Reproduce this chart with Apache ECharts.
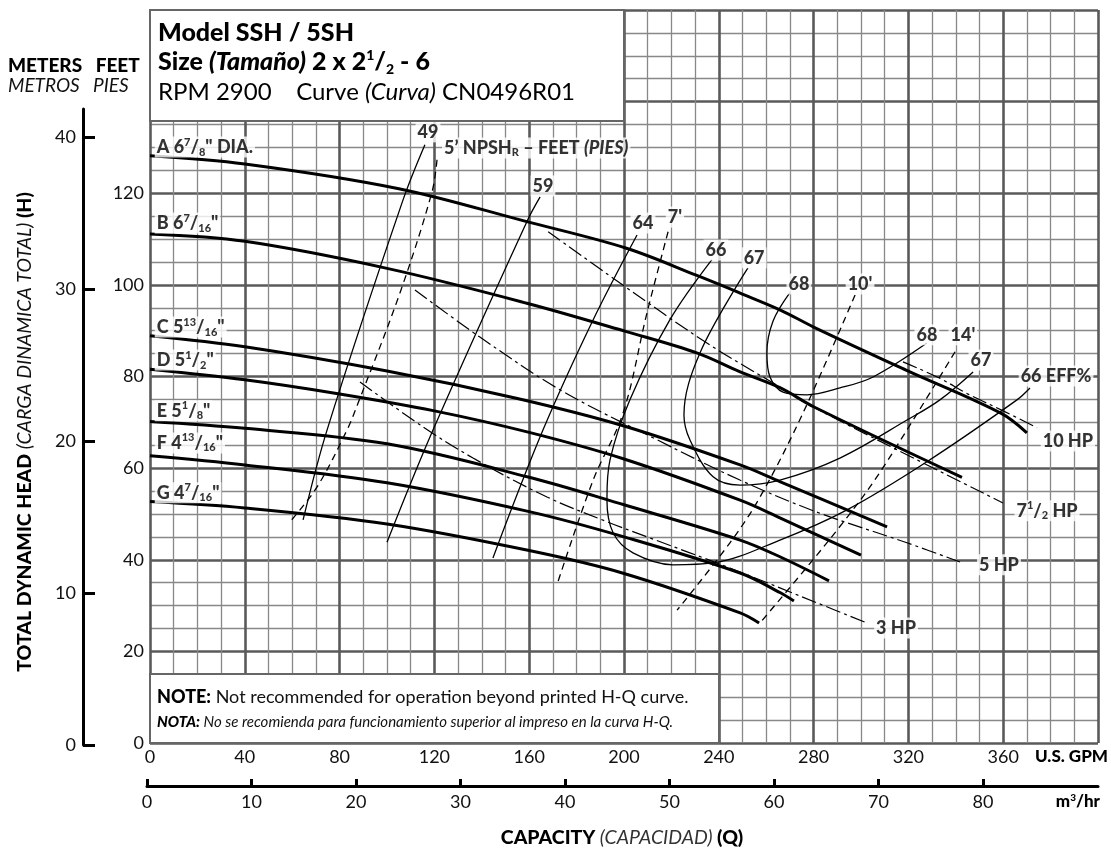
<!DOCTYPE html>
<html><head><meta charset="utf-8">
<script src="https://cdn.jsdelivr.net/npm/echarts@6/dist/echarts.min.js"></script>
<style>html,body{margin:0;padding:0;background:#fff}#c{width:1111px;height:848px}</style>
</head><body><div id="c"></div>
<script>
// ---------- DATA (Q in U.S. GPM, H in feet) ----------
const gpmRange = [0, 400];
const feetRange = [0, 160];
const feetLabels = [0, 20, 40, 60, 80, 100, 120];
const meterTicks = [0, 10, 20, 30, 40];
const m3hTicks = [0, 10, 20, 30, 40, 50, 60, 70, 80];

const impA = [[0,128.2],[40,126.4],[105,121],[159,113.8],[201,108],[231,102],[249,98.2],[266,94.5],[280,90.8],[319,81.4],[359,72],[370,67.7]];
const impB = [[0,111.1],[40,109.5],[100,103.6],[159,96],[201,89.8],[231,85.1],[249,81],[266,77.5],[280,73.4],[342.6,58]];
const impC = [[0,88.9],[40,86.5],[100,81.2],[155,75.2],[200,69.2],[249,60.7],[266,57],[311,47.2]];
const impD = [[0,81.6],[40,79.3],[80,76.2],[120,72.5],[160,67.8],[200,62],[249,53],[266,49.1],[300,41]];
const impE = [[0,70.2],[40,68.7],[100,65.3],[160,58],[200,52],[249,44.3],[266,40.6],[286.5,35.4]];
const impF = [[0,62.7],[40,60.7],[100,56.8],[160,50.5],[200,45],[249,37.1],[266,32.8],[271.7,31]];
const impG = [[0,52.7],[40,51.3],[100,47.8],[160,42],[200,37],[249,28.4],[257,26.2]];

const eff49 = [[116,130.6],[106.8,118.6],[74.7,68.3],[64.6,48.7]];
const eff59 = [[164.6,119.2],[159,113.8],[119.4,68.3],[100,43.8]];
const eff64 = [[205.5,110.9],[187,92.4],[165.8,68.3],[144.7,40.4]];
const eff66 = [[237.1,105.5],[219.4,92.4],[202.5,74.9],[194.1,61.8],[192.8,53.1],[195.4,45.9],[203.8,41.5],[220.7,38.9],[237.6,39.3],[265.8,44.3],[294.1,50.9],[327.8,61.4],[365.8,74.9],[371.3,77.5]];
const eff67 = [[252.3,103.7],[232.1,85.2],[225.3,71.6],[227.8,66.2],[237.6,58.1],[248.9,56.3],[265.8,57.4],[291.1,62.2],[319.4,70.5],[333.3,74.9],[347.3,81]];
const eff68 = [[270,98.3],[262.9,92.1],[260.3,85.2],[261.6,79.9],[267.1,76.6],[277.2,76],[291.1,77.5],[305.1,79.9],[327.8,87.3]];

const npsh5 = [[121.1,127.3],[119,120.3],[105.5,98.3],[87.8,74.2],[83.1,68.3],[70.5,55.9],[59.1,48.3]];
const npsh7 = [[218.6,111.6],[209.7,93.9],[199.6,72],[187,57.4],[171.7,34.5]];
const npsh10 = [[297.5,97.8],[275.5,72],[257.4,53.7],[244.7,43.7],[222.4,29]];
const npsh14 = [[339.7,85.4],[322,70.5],[305,56.8],[291,47.2],[277.2,38.4],[257.4,26.2]];

const hp10 = [[317.7,83.2],[333.3,79.6],[345,76.2],[360,72.5],[374.3,68.8]];
const hp75 = [[168,111.6],[198.3,100.4],[235,87.3],[265.8,77.7],[279.7,73.4],[315.2,64],[359.9,52.4]];
const hp5 = [[111.8,98.9],[139.2,88.6],[173,77.1],[213.9,66.2],[248.9,57.4],[281.4,50.4],[319.4,43.7],[341.8,39.5]];
const hp3 = [[88.6,78.8],[115.2,69],[136.3,62.2],[167.5,53.7],[192.8,48.3],[209.7,45],[244.7,38.2],[281.4,30.6],[302.5,26.2]];

// impeller labels: [Q, H, text]  ([a/b] = fraction)
const impLabels = [[2,130.1,'A 6[7/8]" DIA.'],[2,113.5,'B 6[7/16]"'],[2,90.8,'C 5[13/16]"'],[2,83.6,'D 5[1/2]"'],[2,72.5,'E 5[1/8]"'],[2,65.5,'F 4[13/16]"'],[2,54.6,'G 4[7/16]"']];
// curve labels: [Q, H, text]
const curveLabels = [[117.3,133.4,'49'],[165.8,121.6,'59'],[208,113.5,'64'],[221.5,114.8,"7'"],[238.8,107.6,'66'],[254.9,105.9,'67'],[273.8,100.2,'68'],[299.6,100.2,"10'"],[327.8,89.1,'68'],[343,89.1,"14'"],[350.6,83.6,'67'],[382.3,80.1,'66 EFF%'],[387.3,65.9,'10 HP'],[378.5,50.7,'7[1/2] HP'],[358.2,38.9,'5 HP'],[314.8,25.1,'3 HP']];
const npshTitle = [[123.2,129.9,'NPSH']];

// ---------- RENDER ----------
const FONT = 'Lato, "Noto Sans", sans-serif';
const C = '#000';
function rich(sz){
  return {
    n:{fontFamily:FONT,fontWeight:900,fontSize:sz,color:C,lineHeight:sz+3},
    ni:{fontFamily:FONT,fontWeight:900,fontStyle:'italic',fontSize:sz,color:C,lineHeight:sz+3},
    sp:{fontFamily:FONT,fontWeight:900,fontSize:Math.round(sz*0.6),color:C,lineHeight:Math.round(sz*0.6),verticalAlign:'top'},
    sb:{fontFamily:FONT,fontWeight:900,fontSize:Math.round(sz*0.6),color:C,lineHeight:Math.round(sz*0.6),verticalAlign:'bottom'}
  };
}
function toRich(s){
  let r = '{n|' + s.replace(/\[(\d+)\/(\d+)\]/g, (m,a,b)=>'}{sp|'+a+'}{n|/}{sb|'+b+'}{n|') + '}';
  return r.replace(/\{n\|\}/g,'');
}
const chart = echarts.init(document.getElementById('c'), null, {renderer:'canvas'});
const lineS = (data, w, type, z) => ({type:'line', data, smooth:0.35, showSymbol:false, silent:true, z:z,
  lineStyle:{color:'#000', width:w, type:type}});
const series = [];
[impA,impB,impC,impD,impE,impF,impG].forEach(d=>series.push(lineS(d,3,'solid',5)));
[eff49,eff59,eff64,eff66,eff67,eff68].forEach(d=>series.push(lineS(d,1.3,'solid',4)));
[npsh5,npsh7,npsh10,npsh14].forEach(d=>series.push(lineS(d,1.3,[7,5],4)));
[hp10,hp75,hp5,hp3].forEach(d=>series.push(lineS(d,1.2,[15,4,3,4],4)));
series.push({type:'scatter', data:curveLabels, symbolSize:0, silent:true, z:7,
  label:{show:true, position:'inside', formatter:p=>toRich(p.data[2]), rich:rich(18), backgroundColor:'#fff', padding:[0,2]}});
series.push({type:'scatter', data:impLabels, symbolSize:0, silent:true, z:7,
  label:{show:true, position:'right', distance:0, formatter:p=>toRich(p.data[2]), rich:rich(18), backgroundColor:'#fff', padding:[0,2]}});
series.push({type:'scatter', data:npshTitle, symbolSize:0, silent:true, z:7,
  label:{show:true, position:'right', distance:0, formatter:()=>"{n|5’ NPSH}{sb|R}{n| – FEET }{ni|(PIES)}", rich:rich(18), backgroundColor:'#fff', padding:[0,2]}});

const axText = {fontFamily:FONT, fontSize:18, color:'#111'};
const option = {
  animation:false,
  backgroundColor:'#fff',
  grid:[
    {left:150, top:10, width:948, height:733},
    {left:83, top:109, width:1, height:636},
    {left:147, top:700, width:951, height:86}
  ],
  xAxis:[
    {type:'value', gridIndex:0, min:gpmRange[0], max:gpmRange[1], interval:40,
     axisLine:{show:false}, axisTick:{show:false},
     axisLabel:Object.assign({margin:5, showMaxLabel:false, formatter:v=> v>=400?'':String(v)}, axText),
     splitLine:{show:true, lineStyle:{color:'#5a5a5a', width:2.6}},
     minorTick:{show:false, splitNumber:4},
     minorSplitLine:{show:true, lineStyle:{color:'#888', width:1.3}}},
    {type:'value', gridIndex:1, show:false, min:0, max:1},
    {type:'value', gridIndex:2, min:0, max:91.0, position:'bottom',
     axisLine:{show:true, lineStyle:{color:'#000', width:3}},
     axisTick:{show:true, inside:true, length:7, customValues:m3hTicks, lineStyle:{color:'#000', width:3}},
     axisLabel:Object.assign({margin:7, customValues:m3hTicks}, axText),
     splitLine:{show:false}}
  ],
  yAxis:[
    {type:'value', gridIndex:0, min:feetRange[0], max:feetRange[1], interval:20,
     axisLine:{show:false}, axisTick:{show:false},
     axisLabel:Object.assign({margin:6, formatter:v=> feetLabels.indexOf(v)>=0?String(v):''}, axText),
     splitLine:{show:true, lineStyle:{color:'#5a5a5a', width:2.6}},
     minorTick:{show:false, splitNumber:4},
     minorSplitLine:{show:true, lineStyle:{color:'#888', width:1.3}}},
    {type:'value', gridIndex:1, min:0, max:41.84, position:'left',
     axisLine:{show:true, lineStyle:{color:'#000', width:3}},
     axisTick:{show:true, inside:true, length:12, customValues:meterTicks, lineStyle:{color:'#000', width:3}},
     axisLabel:Object.assign({margin:7, customValues:meterTicks}, axText),
     splitLine:{show:false}},
    {type:'value', gridIndex:2, show:false, min:0, max:1}
  ],
  series: series,
  graphic:[
    {type:'rect', z:10, shape:{x:150, y:10, width:474, height:111}, style:{fill:'#fff', stroke:'#666', lineWidth:2}},
    {type:'text', z:11, x:158, y:33, style:{text:'Model SSH / 5SH', font:'900 25px '+FONT, fill:C, verticalAlign:'middle'}},
    {type:'text', z:11, x:158, y:62, style:{text:'{b|Size }{bi|(Tamaño)}{b| 2 x 2}{sp|1}{b|/}{sb|2}{b| - 6}', verticalAlign:'middle',
      rich:{b:{fontFamily:FONT,fontWeight:900,fontSize:25,fill:C,lineHeight:28},
            bi:{fontFamily:FONT,fontWeight:900,fontStyle:'italic',fontSize:25,fill:C,lineHeight:28},
            sp:{fontFamily:FONT,fontWeight:900,fontSize:14,fill:C,lineHeight:14,verticalAlign:'top'},
            sb:{fontFamily:FONT,fontWeight:900,fontSize:14,fill:C,lineHeight:14,verticalAlign:'bottom'}}}},
    {type:'text', z:11, x:158, y:92, style:{text:'{r|RPM 2900    Curve }{ri|(Curva)}{r| CN0496R01}', verticalAlign:'middle',
      rich:{r:{fontFamily:FONT,fontSize:24,fill:C}, ri:{fontFamily:FONT,fontStyle:'italic',fontSize:24,fill:C}}}},
    {type:'rect', z:10, shape:{x:150, y:674, width:569, height:69}, style:{fill:'#fff', stroke:'#666', lineWidth:2}},
    {type:'text', z:11, x:157, y:697, style:{text:'{b|NOTE:}{r| Not recommended for operation beyond printed H-Q curve.}', verticalAlign:'middle',
      rich:{b:{fontFamily:FONT,fontWeight:900,fontSize:18,fill:C}, r:{fontFamily:FONT,fontSize:18,fill:'#111'}}}},
    {type:'text', z:11, x:157, y:722, style:{text:'{b|NOTA:}{r| No se recomienda para funcionamiento superior al impreso en la curva H-Q.}', verticalAlign:'middle',
      rich:{b:{fontFamily:FONT,fontWeight:900,fontStyle:'italic',fontSize:15,fill:C}, r:{fontFamily:FONT,fontStyle:'italic',fontSize:15,fill:'#111'}}}},
    {type:'text', x:8, y:66, style:{text:'METERS   FEET', font:'900 19px '+FONT, fill:C, verticalAlign:'middle'}},
    {type:'text', x:8, y:86, style:{text:'METROS   PIES', font:'italic 19px '+FONT, fill:'#111', verticalAlign:'middle'}},
    {type:'text', x:25, y:432, rotation:Math.PI/2, style:{text:'{b|TOTAL DYNAMIC HEAD }{i|(CARGA DINAMICA TOTAL) }{b|(H)}', align:'center', verticalAlign:'middle',
      rich:{b:{fontFamily:FONT,fontWeight:900,fontSize:19.5,fill:C}, i:{fontFamily:FONT,fontStyle:'italic',fontSize:19.5,fill:'#111'}}}},
    {type:'text', x:622, y:838, style:{text:'{b|CAPACITY }{i|(CAPACIDAD) }{b|(Q)}', align:'center', verticalAlign:'middle',
      rich:{b:{fontFamily:FONT,fontWeight:900,fontSize:19.5,fill:C}, i:{fontFamily:FONT,fontStyle:'italic',fontSize:19.5,fill:'#333'}}}},
    {type:'text', x:1108, y:757, style:{text:'U.S. GPM', font:'900 17px '+FONT, fill:C, align:'right', verticalAlign:'middle'}},
    {type:'text', x:1100, y:802, style:{text:'{b|m}{sp|3}{b|/hr}', align:'right', verticalAlign:'middle',
      rich:{b:{fontFamily:FONT,fontWeight:900,fontSize:17,fill:C,lineHeight:19}, sp:{fontFamily:FONT,fontWeight:900,fontSize:10,fill:C,lineHeight:10,verticalAlign:'top'}}}}
  ]
};
chart.setOption(option);
</script></body></html>
